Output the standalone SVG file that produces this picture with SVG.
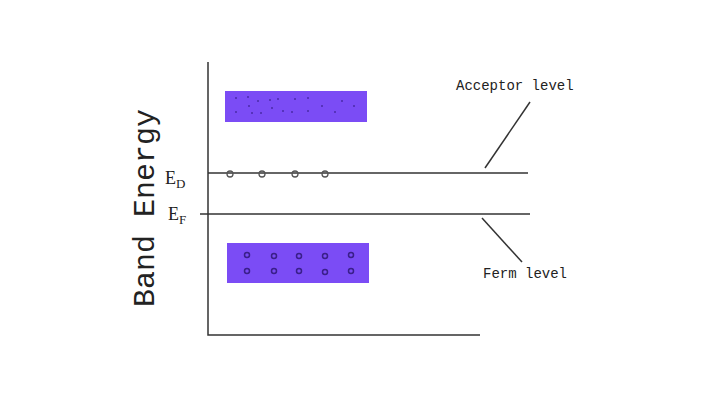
<svg xmlns="http://www.w3.org/2000/svg" width="720" height="404" viewBox="0 0 720 404">
<style>
.ln{stroke:#333;stroke-width:1.5;fill:none}
.band{fill:#7b4cf5}
.h{fill:none;stroke:#555;stroke-width:1.3}
.d{fill:#4a2aa8}
.e{fill:none;stroke:#3a1f8a;stroke-width:1.5}
</style>
<rect width="720" height="404" fill="#fff"/>
<g id="connectors">
<path class="ln" d="M208,62 V335 H480"/>
<path class="ln" d="M208,173 H528"/>
<path class="ln" d="M200,214 H530"/>
<path class="ln" d="M485,168 L530,102" stroke-width="1"/>
<path class="ln" d="M482,218 L522,262" stroke-width="1"/>
</g>
<g id="label"><text font-family="'Liberation Mono', 'Courier New', monospace" fill="#222" font-size="30" transform="translate(146,208) rotate(-90)" text-anchor="middle" dominant-baseline="middle">Band Energy</text></g>
<g id="conduction-band"><rect class="band" x="225" y="91" width="142" height="31"/>
<circle class="d" cx="236" cy="98" r="1"/><circle class="d" cx="248" cy="97" r="1"/><circle class="d" cx="258" cy="101" r="1"/><circle class="d" cx="270" cy="100" r="1"/><circle class="d" cx="278" cy="99" r="1"/><circle class="d" cx="295" cy="99" r="1"/><circle class="d" cx="308" cy="98" r="1"/><circle class="d" cx="342" cy="101" r="1"/><circle class="d" cx="354" cy="106" r="1"/><circle class="d" cx="249" cy="106" r="1"/><circle class="d" cx="272" cy="108" r="1"/><circle class="d" cx="322" cy="106" r="1"/><circle class="d" cx="236" cy="112" r="1"/><circle class="d" cx="252" cy="113" r="1"/><circle class="d" cx="261" cy="113" r="1"/><circle class="d" cx="283" cy="111" r="1"/><circle class="d" cx="292" cy="112" r="1"/><circle class="d" cx="308" cy="111" r="1"/><circle class="d" cx="335" cy="112" r="1"/></g>
<g id="valence-band"><rect class="band" x="227" y="243" width="142" height="40"/>
<circle class="e" cx="247" cy="255" r="2.5"/><circle class="e" cx="274" cy="256" r="2.5"/><circle class="e" cx="299" cy="256" r="2.5"/><circle class="e" cx="325" cy="256" r="2.5"/><circle class="e" cx="351" cy="255" r="2.5"/>
<circle class="e" cx="247" cy="271" r="2.5"/><circle class="e" cx="274" cy="271" r="2.5"/><circle class="e" cx="299" cy="271" r="2.5"/><circle class="e" cx="325" cy="272" r="2.5"/><circle class="e" cx="351" cy="271" r="2.5"/></g>
<g id="donor-level"><circle class="h" cx="230" cy="174" r="3"/><circle class="h" cx="262" cy="174" r="3"/><circle class="h" cx="295" cy="174" r="3"/><circle class="h" cx="325" cy="174" r="3"/>
<text font-family="'Liberation Serif', serif" fill="#222" x="165" y="184" font-size="18">E<tspan font-size="13" dy="4">D</tspan></text></g>
<g id="fermi-level"><text font-family="'Liberation Serif', serif" fill="#222" x="168" y="220" font-size="18">E<tspan font-size="13" dy="4">F</tspan></text>
<text font-family="'Liberation Mono', 'Courier New', monospace" fill="#222" x="483" y="278" font-size="14">Ferm level</text></g>
<g id="acceptor"><text font-family="'Liberation Mono', 'Courier New', monospace" fill="#222" x="456" y="90" font-size="14">Acceptor level</text></g>
</svg>
